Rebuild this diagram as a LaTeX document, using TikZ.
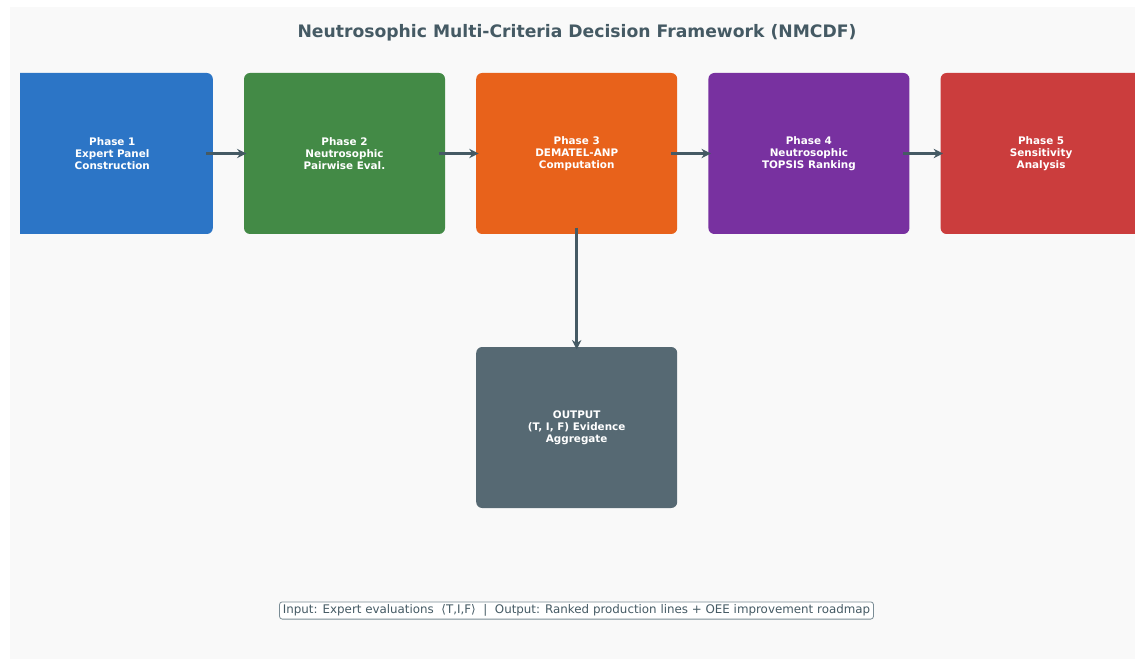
\documentclass[tikz,border=0pt]{standalone}
\usepackage{fontspec}
\setmainfont{DejaVu Sans}
\usetikzlibrary{arrows.meta}
\definecolor{bgpanel}{HTML}{F9F9F9}
\definecolor{cblue}{HTML}{2C75C6}
\definecolor{cgreen}{HTML}{438A46}
\definecolor{corange}{HTML}{E8621B}
\definecolor{cpurple}{HTML}{7831A0}
\definecolor{cred}{HTML}{CB3D3D}
\definecolor{cgray}{HTML}{566973}
\definecolor{cdark}{HTML}{455A64}
\definecolor{cframe}{HTML}{7A8C95}
\tikzset{
  phasebox/.style={rounded corners=4.5pt, minimum width=150.75pt, minimum height=120.75pt,
    inner sep=0pt, text=white, align=center,
    font=\fontsize{7.8}{9}\selectfont\bfseries},
  flowarrow/.style={draw=cdark, line width=2.2pt, -{Stealth[length=7pt,width=7pt]}},
}
\begin{document}
\begin{tikzpicture}[x=0.75pt,y=-0.75pt]
\useasboundingbox (0,0) rectangle (1135,659);
\fill[white] (0,0) rectangle (1135,659);
\fill[bgpanel] (10,7) rectangle (1135,659);
\node[font=\fontsize{12.9}{14}\selectfont\bfseries, text=cdark] (title) at (577,33)
  {Neutrosophic Multi-Criteria Decision Framework (NMCDF)};
\begin{scope}
\clip (20,0) rectangle (1135,659);
\node[phasebox, fill=cblue] (p1) at (112.3,153.5) {Phase 1\\Expert Panel\\Construction};
\node[phasebox, fill=cgreen] (p2) at (344.5,153.5) {Phase 2\\Neutrosophic\\Pairwise Eval.};
\node[phasebox, fill=corange] (p3) at (576.7,153.5) {Phase 3\\DEMATEL-ANP\\Computation};
\node[phasebox, fill=cpurple] (p4) at (808.9,153.5) {Phase 4\\Neutrosophic\\TOPSIS Ranking};
\node[phasebox, fill=cred] (p5) at (1041.1,153.5) {Phase 5\\Sensitivity\\Analysis};
\node[phasebox, fill=cgray] (out) at (576.7,427.5) {OUTPUT\\(T, I, F) Evidence\\Aggregate};
\end{scope}
\draw[flowarrow, shorten <=-5pt, shorten >=-2pt] (p1.east) -- (p2.west);
\draw[flowarrow, shorten <=-5pt, shorten >=-2pt] (p2.east) -- (p3.west);
\draw[flowarrow, shorten <=-5pt, shorten >=-2pt] (p3.east) -- (p4.west);
\draw[flowarrow, shorten <=-5pt, shorten >=-2pt] (p4.east) -- (p5.west);
\draw[flowarrow, shorten <=-5pt, shorten >=-2pt] (p3.south) -- (out.north);
\node[draw=cframe, fill=white, rounded corners=2pt, line width=0.6pt, inner xsep=2.5pt, inner ysep=2pt,
  text=cdark, font=\fontsize{8.9}{10}\selectfont] (note) at (576.5,610.5)
  {Input: Expert evaluations \ ⟨T,I,F⟩ \ | \ Output: Ranked production lines + OEE improvement roadmap};
\end{tikzpicture}
\end{document}
